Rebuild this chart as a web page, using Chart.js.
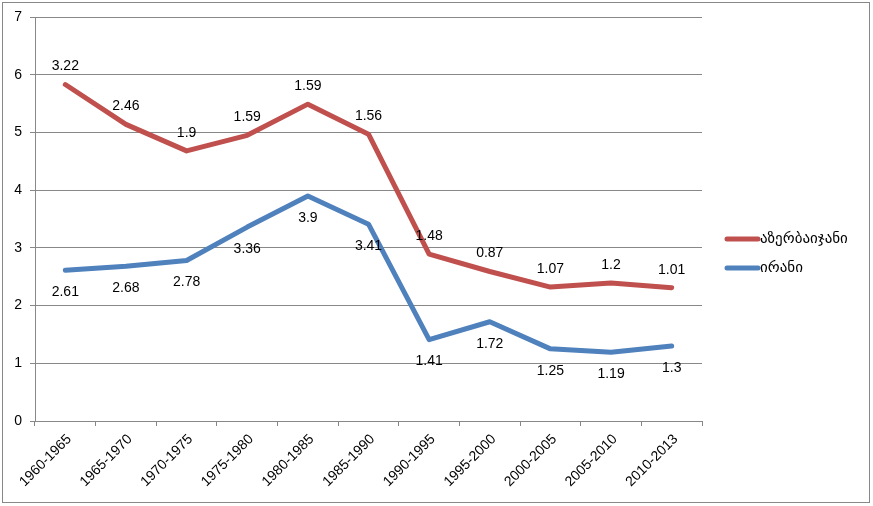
<!DOCTYPE html>
<html>
<head>
<meta charset="utf-8">
<script src="https://cdn.jsdelivr.net/npm/chart.js@4.4.1/dist/chart.umd.min.js"></script>
<style>
  html, body { margin: 0; padding: 0; background: #fff; }
  canvas { display: block; }
</style>
</head>
<body>
<canvas id="chart" width="873" height="506"></canvas>
<script>
// periods on the x axis
const periods = ["1960-1965", "1965-1970", "1970-1975", "1975-1980", "1980-1985", "1985-1990",
  "1990-1995", "1995-2000", "2000-2005", "2005-2010", "2010-2013"];

// values (the chart is stacked: red sits on top of blue)
const iran = [2.61, 2.68, 2.78, 3.36, 3.9, 3.41, 1.41, 1.72, 1.25, 1.19, 1.3];
const azerbaijan = [3.22, 2.46, 1.9, 1.59, 1.59, 1.56, 1.48, 0.87, 1.07, 1.2, 1.01];

const yTicks = [0, 1, 2, 3, 4, 5, 6, 7];

const FONT = "'Liberation Sans', Arial, 'DejaVu Sans', sans-serif";

// value labels: red above the point, blue below
const valueLabels = {
  id: "valueLabels",
  afterDatasetsDraw(chart) {
    const ctx = chart.ctx;
    ctx.save();
    ctx.font = "14px " + FONT;
    ctx.fillStyle = "#000";
    ctx.textAlign = "center";
    ctx.textBaseline = "middle";
    chart.data.datasets.forEach((ds, i) => {
      const meta = chart.getDatasetMeta(i);
      meta.data.forEach((pt, j) => {
        const dy = ds.labelPos === "above" ? -18 : 22;
        ctx.fillText(String(ds.data[j]), pt.x, pt.y + dy);
      });
    });
    ctx.restore();
  }
};

// outer frame + legend on the right
const frameAndLegend = {
  id: "frameAndLegend",
  afterDraw(chart) {
    const ctx = chart.ctx;
    ctx.save();
    ctx.strokeStyle = "#888";
    ctx.lineWidth = 1;
    ctx.strokeRect(2.5, 2.5, 867, 500);

    const order = [1, 0];
    order.forEach((idx, k) => {
      const ds = chart.data.datasets[idx];
      const y = 239 + k * 29;
      ctx.strokeStyle = ds.borderColor;
      ctx.lineWidth = 5;
      ctx.lineCap = "round";
      ctx.beginPath();
      ctx.moveTo(727, y);
      ctx.lineTo(758, y);
      ctx.stroke();
      ctx.fillStyle = "#000";
      ctx.font = "15px " + FONT;
      ctx.textBaseline = "middle";
      ctx.textAlign = "left";
      ctx.fillText(ds.label, 760, y);
    });
    ctx.restore();
  }
};

new Chart(document.getElementById("chart"), {
  type: "line",
  data: {
    labels: periods,
    datasets: [
      {
        label: "ირანი",
        data: iran,
        borderColor: "#4F81BD",
        backgroundColor: "#4F81BD",
        labelPos: "below"
      },
      {
        label: "აზერბაიჯანი",
        data: azerbaijan,
        borderColor: "#C0504D",
        backgroundColor: "#C0504D",
        labelPos: "above"
      }
    ]
  },
  options: {
    responsive: false,
    animation: false,
    devicePixelRatio: 1,
    layout: { padding: { left: 0, top: 17, right: 171, bottom: 0 } },
    elements: {
      line: { borderWidth: 5, tension: 0, borderCapStyle: "round", borderJoinStyle: "round", fill: false },
      point: { radius: 0, hoverRadius: 0 }
    },
    plugins: {
      legend: { display: false },
      tooltip: { enabled: false }
    },
    scales: {
      x: {
        offset: true,
        grid: { display: true, offset: true, drawOnChartArea: false, drawTicks: true, tickLength: 5, color: "#888" },
        border: { color: "#888" },
        ticks: {
          font: { family: FONT, size: 14 },
          color: "#000",
          maxRotation: 45,
          minRotation: 45,
          autoSkip: false,
          labelOffset: 4,
          padding: 5
        },
        afterFit(s) { s.height = 85; }
      },
      y: {
        stacked: true,
        min: 0,
        max: 7,
        afterBuildTicks(s) { s.ticks = yTicks.map(v => ({ value: v })); },
        grid: { color: "#888", tickLength: 5, drawTicks: true },
        border: { color: "#888" },
        ticks: {
          font: { family: FONT, size: 14 },
          color: "#000",
          padding: 8
        },
        afterFit(s) { s.width = 35; }
      }
    }
  },
  plugins: [valueLabels, frameAndLegend]
});
</script>
</body>
</html>
